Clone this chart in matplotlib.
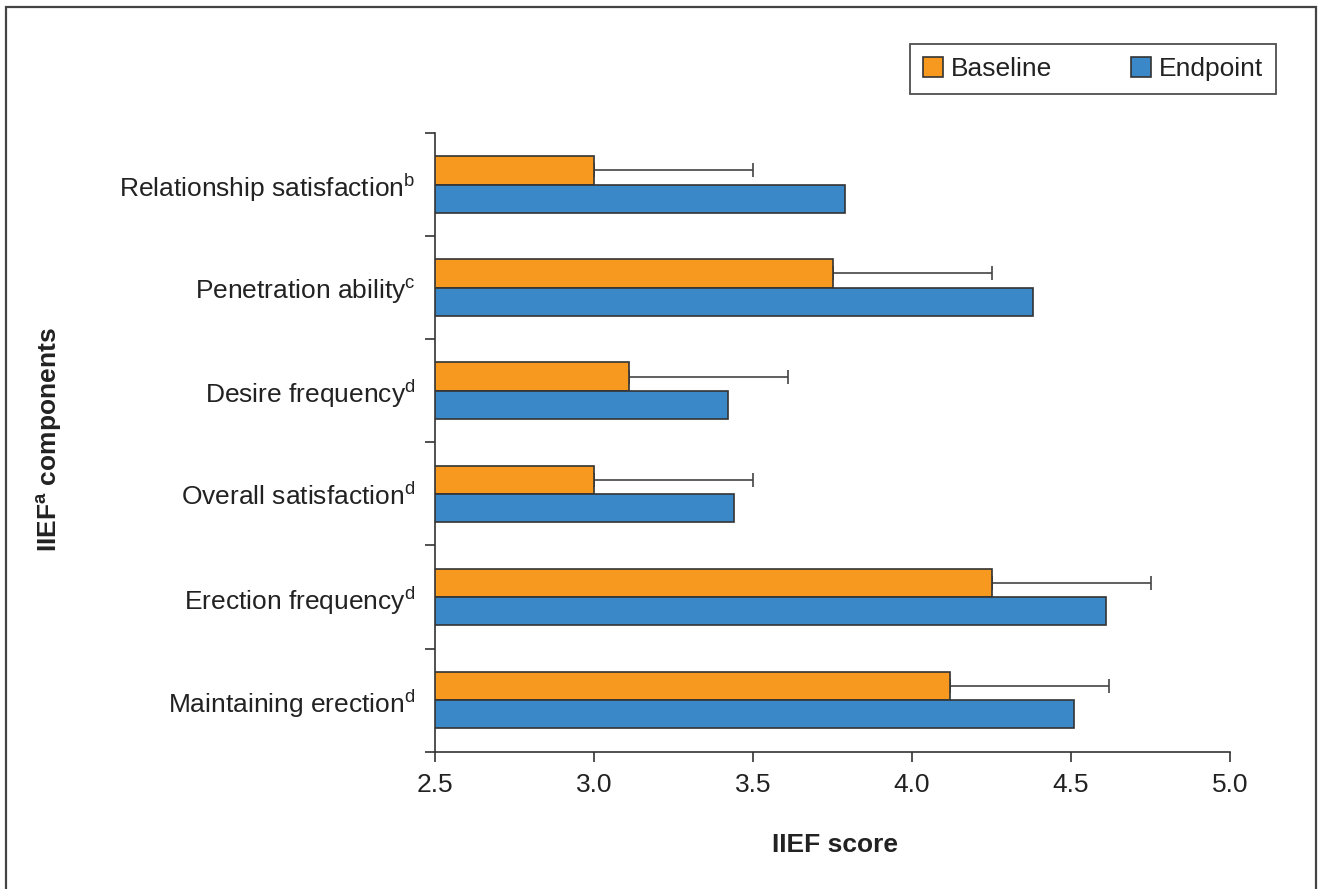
import numpy as np
import matplotlib.pyplot as plt
from matplotlib.patches import Rectangle

plt.rcParams['font.family'] = ['Liberation Sans', 'DejaVu Sans']
plt.rcParams['mathtext.fontset'] = 'custom'
plt.rcParams['mathtext.rm'] = 'Liberation Sans'
plt.rcParams['mathtext.it'] = 'Liberation Sans'
plt.rcParams['mathtext.bf'] = 'Liberation Sans:bold'

# IIEF components, bottom to top
components = [
    'Maintaining erection$^{\\mathrm{d}}$',
    'Erection frequency$^{\\mathrm{d}}$',
    'Overall satisfaction$^{\\mathrm{d}}$',
    'Desire frequency$^{\\mathrm{d}}$',
    'Penetration ability$^{\\mathrm{c}}$',
    'Relationship satisfaction$^{\\mathrm{b}}$',
]
baseline = [4.12, 4.25, 3.00, 3.11, 3.75, 3.00]
baseline_sd = [0.5, 0.5, 0.5, 0.5, 0.5, 0.5]
endpoint = [4.51, 4.61, 3.44, 3.42, 4.38, 3.79]
x_ticks = [2.5, 3.0, 3.5, 4.0, 4.5, 5.0]

orange = '#F7991F'
blue = '#3A88C8'
edge = '#333333'
fs = 19

fig = plt.figure(figsize=(13.21, 8.89), dpi=100)
ax = fig.add_axes([435 / 1321, 1 - 751.7 / 889, 795 / 1321, 618.7 / 889])

y = np.arange(len(components))
h = 0.275
ax.barh(y + h / 2, [b - 2.5 for b in baseline], height=h, left=2.5,
        color=orange, edgecolor=edge, linewidth=1.2, label='Baseline', zorder=3)
ax.barh(y - h / 2, [e - 2.5 for e in endpoint], height=h, left=2.5,
        color=blue, edgecolor=edge, linewidth=1.2, label='Endpoint', zorder=3)
ax.errorbar(baseline, y + h / 2, xerr=[np.zeros(len(y)), baseline_sd],
            fmt='none', ecolor='#444444', elinewidth=1.2, capsize=5,
            capthick=1.2, zorder=2)

ax.set_xlim(2.5, 5.0)
ax.set_ylim(-0.5, len(components) - 0.5)
ax.set_xticks(x_ticks)
ax.set_xticklabels([f'{t:.1f}' for t in x_ticks], fontsize=fs, color='#222222')
ax.set_yticks(np.arange(-0.5, len(components), 1.0))
ax.set_yticklabels([])
ax.set_yticks(y, minor=True)
ax.set_yticklabels(components, minor=True, fontsize=fs, color='#222222')
ax.tick_params(axis='y', which='minor', length=0, pad=14)
ax.tick_params(axis='both', which='major', length=7, width=1.2, color='#333333')
ax.tick_params(axis='x', pad=8)

for side in ['top', 'right']:
    ax.spines[side].set_visible(False)
for side in ['left', 'bottom']:
    ax.spines[side].set_color('#333333')
    ax.spines[side].set_linewidth(1.2)

fig.text(835 / 1321, 1 - 845 / 889, 'IIEF score', ha='center', va='center',
         fontsize=fs, fontweight='bold', color='#222222')
fig.text(50 / 1321, 1 - 440 / 889, 'IIEF$^{\\mathbf{a}}$ components', ha='center',
         va='center', rotation=90, fontsize=fs, fontweight='bold', color='#222222')

leg = fig.legend(loc='upper right', bbox_to_anchor=(1276 / 1321, 1 - 44 / 889),
                 ncol=2, fontsize=fs, frameon=True, fancybox=False,
                 edgecolor='#222222', handlelength=0.75, handleheight=0.75,
                 handletextpad=0.3, columnspacing=3.0, borderpad=0.5,
                 borderaxespad=0)
leg.get_frame().set_linewidth(1.3)
for t in leg.get_texts():
    t.set_color('#222222')

# outer frame around the figure
fig.patches.append(Rectangle((5.5 / 1321, -0.02), 1310 / 1321, 1.02 - 7.3 / 889,
                             transform=fig.transFigure, fill=False,
                             edgecolor='#444444', linewidth=1.6))

fig.savefig('out.png', dpi=100)
